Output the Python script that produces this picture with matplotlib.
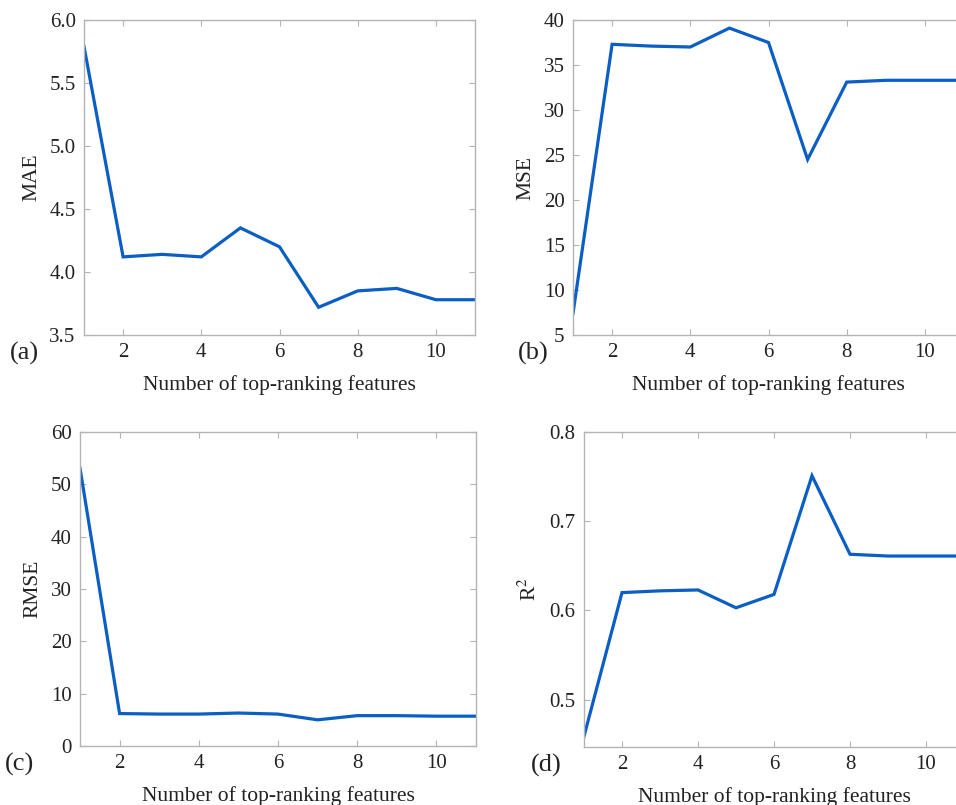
import numpy as np
import matplotlib
matplotlib.use("Agg")
import matplotlib.pyplot as plt

plt.rcParams['font.family'] = ['Liberation Serif', 'DejaVu Serif']
plt.rcParams['mathtext.fontset'] = 'stix'

# ----------------------------------------------------------------------------
# Metrics versus number of top-ranking features

n_features = [1, 2, 3, 4, 5, 6, 7, 8, 9, 10, 11]

mae  = [5.79, 4.12, 4.14, 4.12, 4.35, 4.20, 3.72, 3.85, 3.87, 3.78, 3.78]
mse  = [7.4, 37.3, 37.1, 37.0, 39.1, 37.5, 24.5, 33.1, 33.3, 33.3, 33.3]
rmse = [53.1, 6.2, 6.1, 6.1, 6.3, 6.1, 5.0, 5.8, 5.8, 5.7, 5.7]
r2   = [0.459, 0.620, 0.622, 0.623, 0.603, 0.618, 0.751, 0.663, 0.661, 0.661, 0.661]

panels = [
    # values, ylabel, tag, ylim, yticks, box (left, right, top, bottom in px)
    (mae,  'MAE',      '(a)', (3.5, 6.0),    np.arange(3.5, 6.01, 0.5), (84, 475, 20, 335)),
    (mse,  'MSE',      '(b)', (5, 40),       np.arange(5, 41, 5),       (573, 964, 20, 335)),
    (rmse, 'RMSE',     '(c)', (0, 60),       np.arange(0, 61, 10),      (80, 476, 432, 746)),
    (r2,   r'R$^2$',   '(d)', (0.447, 0.8),  [0.5, 0.6, 0.7, 0.8],      (584, 964, 432, 747)),
]

W, H = 956, 805
fig = plt.figure(figsize=(W / 100, H / 100), dpi=100)

blue = '#0a5ec4'
gray = '#b4b4b4'

for vals, ylab, tag, ylim, yticks, (l, r, t, b) in panels:
    ax = fig.add_axes([l / W, 1 - b / H, (r - l) / W, (b - t) / H])
    ax.plot(n_features, vals, color=blue, lw=2.3, solid_joinstyle='miter')
    ax.set_xlim(1, 11)
    ax.set_ylim(*ylim)
    ax.set_xticks([2, 4, 6, 8, 10])
    ax.set_yticks(yticks)
    if tag in ('(a)', '(d)'):
        ax.set_yticklabels(['%.1f' % v for v in yticks])
    for s in ax.spines.values():
        s.set_color(gray)
        s.set_linewidth(1.0)
    ax.tick_params(direction='in', length=4, width=0.8, color=gray,
                   top=True, right=True, labelsize=15, labelcolor='#222222', pad=6)
    ax.set_ylabel(ylab, fontsize=15.5, color='#222222', labelpad=6)
    ax.set_xlabel('Number of top-ranking features', fontsize=15.5, color='#222222', labelpad=9)
    ax.text(-0.19 if tag in ('(a)', '(c)') else -0.14, -0.06, tag, transform=ax.transAxes,
            fontsize=19, color='#222222', ha='left', va='center')

fig.savefig('out.png', dpi=100)
